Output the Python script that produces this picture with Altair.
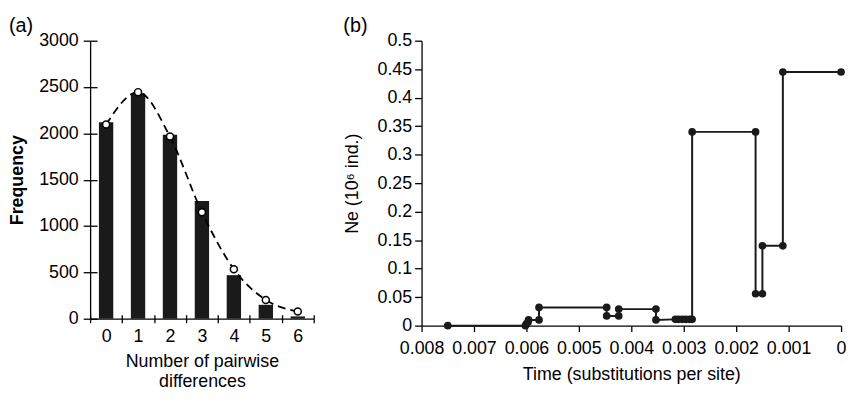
import altair as alt
import pandas as pd

FONT = "Liberation Sans"

# ---- panel (a) data ----
diffs = [0, 1, 2, 3, 4, 5, 6]
observed = [2120, 2430, 1985, 1270, 470, 150, 25]
expected = [2095, 2445, 1965, 1150, 535, 203, 78]
freq_ticks = [0, 500, 1000, 1500, 2000, 2500, 3000]

# ---- panel (b) data (in drawing order) ----
time_sub = [0.00750, 0.00602, 0.00600, 0.00597, 0.00596, 0.00576, 0.00576,
            0.00447, 0.00447, 0.00424, 0.00424, 0.00353, 0.00353,
            0.00316, 0.00310, 0.00303, 0.00296, 0.00289, 0.00284, 0.00284,
            0.00163, 0.00163, 0.00150, 0.00150, 0.00111, 0.00111, 0.00000]
ne_vals = [0.000, 0.000, 0.003, 0.006, 0.010, 0.010, 0.032,
           0.032, 0.017, 0.017, 0.029, 0.029, 0.010,
           0.011, 0.011, 0.011, 0.011, 0.011, 0.011, 0.340,
           0.340, 0.056, 0.056, 0.140, 0.140, 0.445, 0.445]
time_ticks = [0.008, 0.007, 0.006, 0.005, 0.004, 0.003, 0.002, 0.001, 0]
ne_ticks = [0, 0.05, 0.1, 0.15, 0.2, 0.25, 0.3, 0.35, 0.4, 0.45, 0.5]

dfa = pd.DataFrame({"k": diffs, "obs": observed, "exp": expected})
dfb = pd.DataFrame({"t": time_sub, "ne": ne_vals, "order": list(range(len(time_sub)))})

WA, HA = 226, 281
WB, HB = 424, 288

xscale_a = alt.Scale(paddingInner=0, paddingOuter=0)
yscale_a = alt.Scale(domain=[0, 3000], nice=False)

bars = alt.Chart(dfa).mark_bar(size=14.5, color="#1a1a1a").encode(
    x=alt.X("k:O", scale=xscale_a,
            axis=alt.Axis(title=["Number of pairwise", "differences"], labelAngle=0,
                          tickBand="extent", tickSize=4, labelPadding=5,
                          titlePadding=7, titleLineHeight=21, titleFontWeight="normal")),
    y=alt.Y("obs:Q", scale=yscale_a,
            axis=alt.Axis(title="Frequency", values=freq_ticks, format="d",
                          tickSize=7, labelPadding=5, titlePadding=12,
                          titleFontWeight="bold")),
)

inner_ticks = alt.Chart(dfa).mark_point(opacity=0).encode(
    x=alt.X("k:O", scale=xscale_a,
            axis=alt.Axis(orient="top", offset=-HA, labels=False, domain=False,
                          title=None, tickSize=4, tickBand="extent")),
    y=alt.Y("obs:Q", scale=yscale_a,
            axis=alt.Axis(orient="right", offset=-WA, labels=False, domain=False,
                          title=None, values=freq_ticks, tickSize=7)),
)

exp_line = alt.Chart(dfa).mark_line(color="black", strokeDash=[8, 5], strokeWidth=1.8,
                                    interpolate="monotone").encode(
    x=alt.X("k:O", scale=xscale_a, axis=None),
    y=alt.Y("exp:Q", scale=yscale_a, axis=None),
)

exp_pts = alt.Chart(dfa).mark_point(shape="circle", filled=True, fill="white", stroke="black",
                                    strokeWidth=1.5, size=50, opacity=1).encode(
    x=alt.X("k:O", scale=xscale_a, axis=None),
    y=alt.Y("exp:Q", scale=yscale_a, axis=None),
)

panel_a = alt.layer(bars, inner_ticks, exp_line, exp_pts).resolve_axis(
    x="independent", y="independent"
).properties(
    width=WA, height=HA,
    title=alt.TitleParams("(a)", anchor="start", fontSize=20, font=FONT,
                          fontWeight="normal", offset=-4, color="black"),
)

xb = alt.X("t:Q", scale=alt.Scale(domain=[0, 0.008], reverse=True, nice=False, zero=False),
           axis=alt.Axis(title="Time (substitutions per site)", values=time_ticks, format="~g",
                         tickSize=6, labelPadding=8, titlePadding=8,
                         labelOverlap=False, labelFlush=False,
                         titleFontWeight="normal"))
yb = alt.Y("ne:Q", scale=alt.Scale(domain=[0, 0.5], nice=False),
           axis=alt.Axis(title="Ne (10\u2076 ind.)", values=ne_ticks, format="~g",
                         tickSize=7, labelPadding=3, titlePadding=16,
                         labelOverlap=False, titleFontWeight="normal"))

step_line = alt.Chart(dfb).mark_line(color="#1a1a1a", strokeWidth=2).encode(
    x=xb, y=yb, order="order:Q"
)
step_pts = alt.Chart(dfb).mark_circle(color="#1a1a1a", size=60, opacity=1).encode(
    x=xb, y=yb
)

panel_b = alt.layer(step_line, step_pts).properties(
    width=WB, height=HB,
    title=alt.TitleParams("(b)", anchor="start", fontSize=20, font=FONT,
                          fontWeight="normal", offset=-4, color="black"),
)

chart = alt.hconcat(panel_a, panel_b, spacing=28).properties(
    padding={"left": 0, "top": 6, "right": 0, "bottom": -3}
).configure_view(stroke=None).configure_axis(
    labelFont=FONT, titleFont=FONT, labelFontSize=18, titleFontSize=18,
    labelColor="black", titleColor="black", domainColor="black", tickColor="black",
    domainWidth=1.3, tickWidth=1.3, grid=False,
)

chart.save("out.html", embed_options={"renderer": "svg", "actions": False})
